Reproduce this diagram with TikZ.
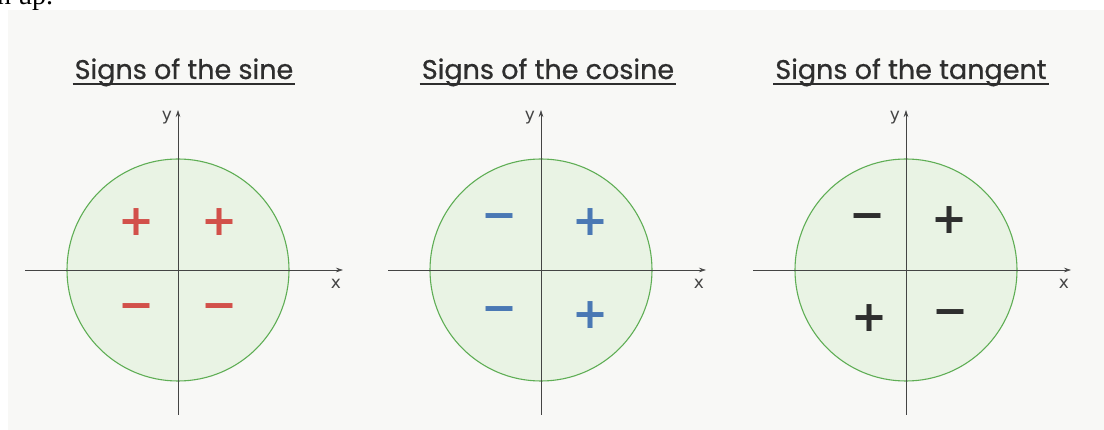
\documentclass[tikz,border=0pt]{standalone}
\usepackage{fontspec}
\setmainfont{Poppins}
\newfontfamily\titlefont{Poppins}[FakeBold=0.7]
\newfontfamily\signfont{DejaVu Sans}
\newfontfamily\pagefont{Liberation Serif}
\usetikzlibrary{arrows.meta}
\definecolor{bgpage}{HTML}{F8F8F6}
\definecolor{diskfill}{HTML}{E9F3E4}
\definecolor{diskline}{HTML}{5FAE55}
\definecolor{axisgray}{HTML}{444444}
\definecolor{sred}{HTML}{D2504A}
\definecolor{sblue}{HTML}{4A78B4}
\definecolor{sdark}{HTML}{2E2E2E}
\tikzset{
  disk/.style={circle, draw=diskline, fill=diskfill, line width=1.1pt, minimum size=222pt, inner sep=0pt},
  axisline/.style={draw=axisgray, line width=0.6pt, -{Stealth[length=7pt,width=4.5pt]}},
  axislabel/.style={font=\signfont\fontsize{17}{17}\selectfont, text=axisgray, inner sep=0pt},
  title/.style={font=\titlefont\fontsize{27}{27}\selectfont, text=sdark, inner sep=0pt},
  uline/.style={draw=sdark, line width=2.6pt},
  sign/.style={font=\signfont\bfseries\fontsize{43}{43}\selectfont, inner sep=0pt},
}
\begin{document}
\begin{tikzpicture}[x=1pt,y=-1pt]
\fill[white] (0,0) rectangle (1104,430);
\fill[bgpage] (8,10) rectangle (1104,430);
\useasboundingbox (0,0) rectangle (1104,430);
\begin{scope}
\clip (0,0) rectangle (1104,430);
\node[anchor=base west, inner sep=0pt, font=\pagefont\fontsize{28}{28}\selectfont] (frag) at (-3,5) {n up.};
\end{scope}
% ---------- panels
\foreach \cx/\nm in {178/a, 541/b, 906/c} {
  \node[disk] (disk\nm) at (\cx,270) {};
  \coordinate (xs\nm) at (\cx-153,270);
  \coordinate (xe\nm) at (\cx+165,270);
  \coordinate (ys\nm) at (\cx,415);
  \coordinate (ye\nm) at (\cx,110);
  \draw[axisline] (xs\nm) -- (xe\nm);
  \draw[axisline] (ys\nm) -- (ye\nm);
  \node[axislabel] (xl\nm) at (\cx+158,284) {x};
  \node[axislabel] (yl\nm) at (\cx-11,118) {y};
}
\node[title, anchor=base] (ta) at (184,79) {Signs of the sine};
\node[title, anchor=base] (tb) at (548,79) {Signs of the cosine};
\node[title, anchor=base] (tc) at (911,79) {Signs of the tangent};
\foreach \t in {ta,tb,tc} {
  \draw[uline] ([xshift=-2pt,yshift=-5pt]\t.base west) -- ([xshift=2pt,yshift=-5pt]\t.base east);
}
% sine signs
\node[sign, text=sred] (sa1) at (137,222) {+};
\node[sign, text=sred] (sa2) at (220,222) {+};
\node[sign, text=sred] (sa3) at (137,312) {−};
\node[sign, text=sred] (sa4) at (220,312) {−};
% cosine signs
\node[sign, text=sblue] (sb1) at (500,222) {−};
\node[sign, text=sblue] (sb2) at (591,222) {+};
\node[sign, text=sblue] (sb3) at (500,315) {−};
\node[sign, text=sblue] (sb4) at (591,315) {+};
% tangent signs
\node[sign, text=sdark] (sc1) at (868,222) {−};
\node[sign, text=sdark] (sc2) at (950,220) {+};
\node[sign, text=sdark] (sc3) at (870,318) {+};
\node[sign, text=sdark] (sc4) at (951,318) {−};
\end{tikzpicture}
\end{document}
